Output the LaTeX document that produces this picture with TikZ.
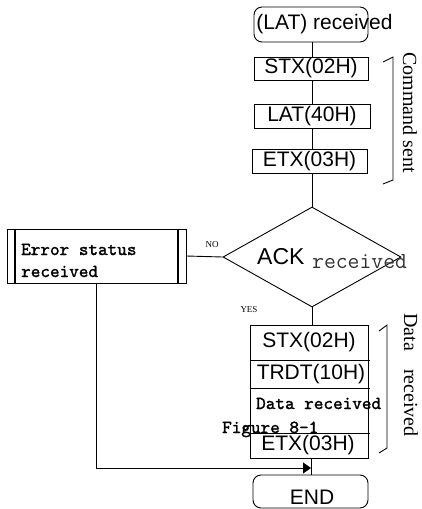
\documentclass[tikz,border=0pt]{standalone}
\usepackage{fontspec}
\setmainfont{Liberation Serif}
\newfontfamily\arialfont{Liberation Sans}
\newfontfamily\heavymono[FakeBold=1.6]{lmmono10-regular.otf}
\usetikzlibrary{shapes.geometric,arrows.meta}

\tikzset{
  line/.style={line width=0.9pt},
  procbox/.style={draw, line width=0.9pt, inner sep=0pt},
  termbox/.style={procbox, rounded corners=8pt},
  sanslabel/.style={inner sep=0pt, font=\arialfont\fontsize{21pt}{24pt}\selectfont},
  monolabel/.style={inner sep=0pt, anchor=base west, font=\heavymono\fontsize{18.3pt}{22pt}\selectfont},
  sidelabel/.style={inner sep=0pt, rotate=-90, font=\fontsize{20pt}{22pt}\selectfont},
  branchlabel/.style={inner sep=0pt, font=\fontsize{9pt}{10pt}\selectfont},
}

\begin{document}
\begin{tikzpicture}[x=1pt, y=-1pt]
\useasboundingbox (0,0) rectangle (421,509);

% command sent
\node[termbox, minimum width=114pt, minimum height=35pt] (start) at (311,24.5) {};
\node[sanslabel] (starttxt) at (324.5,24.5) {(LAT) received};
\node[procbox, minimum width=114pt, minimum height=23pt] (stx) at (311,68.5) {};
\node[sanslabel] at (stx) {STX(02H)};
\node[procbox, minimum width=116pt, minimum height=24pt] (lat) at (312,116) {};
\node[sanslabel] at (lat) {LAT(40H)};
\node[procbox, minimum width=115pt, minimum height=24pt] (etx) at (309.5,161) {};
\node[sanslabel] at (etx) {ETX(03H)};

% decision
\node[diamond, draw, line width=0.9pt, inner sep=0pt, minimum width=178pt, minimum height=100pt] (ack) at (312,257) {};
\node[inner sep=0pt, anchor=base west, font=\arialfont\fontsize{23pt}{26pt}\selectfont] (acktxt) at (257,264) {ACK};
\node[inner sep=0pt, anchor=base west, text=black!80, font=\ttfamily\fontsize{23pt}{26pt}\selectfont] (rectxt) at (312,268) {received};

% error branch
\node[procbox, minimum width=179pt, minimum height=54pt] (err) at (96.5,256) {};
\draw[line width=2pt] ([xshift=8pt]err.north west) -- ([xshift=8pt]err.south west);
\draw[line width=2pt] ([xshift=-8pt]err.north east) -- ([xshift=-8pt]err.south east);
\node[monolabel] (errA) at (21,255) {Error status};
\node[monolabel] (errB) at (21,277) {received};

% data received
\node[procbox, minimum width=118pt, minimum height=133pt] (data) at (309,391.5) {};
\draw[line] (data.west |- 0,360) -- (370,360);
\draw[line] (data.west |- 0,388) -- (370,388);
\draw[line] (data.west |- 0,433) -- (370,433);
\node[sanslabel] (dstx) at (309,342) {STX(02H)};
\node[sanslabel] (dtrdt) at (311,374) {TRDT(10H)};
\node[monolabel] (dtxt) at (256,409) {Data received};
\node[monolabel] (fig) at (222,433) {Figure 8-1};
\node[sanslabel] (detx) at (308,445) {ETX(03H)};

% end
\node[termbox, minimum width=115pt, minimum height=33pt] (end) at (310.5,491.5) {};
\node[sanslabel] at (312,497) {END};

% spine connectors
\coordinate (spineA) at (312,0);
\coordinate (spineB) at (311,0);
\draw[line] (start.south -| spineA) -- (stx.north -| spineA);
\draw[line] (stx.south -| spineA) -- (lat.north -| spineA);
\draw[line] (lat.south -| spineA) -- (etx.north -| spineA);
\draw[line] (etx.south -| spineA) -- (ack.north);
\draw[line] (ack.south) -- (data.north -| ack.south);
\draw[line] (data.south -| spineB) -- (end.north -| spineB);
\draw[line] (err.east) -- (ack.west);
\coordinate (join) at (311,468);
\draw[line, -{Triangle[length=8pt,width=11pt]}] (err.south) |- (join);

\node[branchlabel] (no) at (212,245) {NO};
\node[branchlabel] (yes) at (249,310) {YES};

% brackets
\draw[line] (383,62) -- (393,57) -- (393,180) -- (383,184);
\node[sidelabel] (cmd) at (410,112.5) {Command sent};
\draw[line] (379,331) -- (387,325) -- (387,448) -- (379,453);
\node[sidelabel] (rcv) at (411,375) {Data\hspace{18pt}received};
\end{tikzpicture}
\end{document}
